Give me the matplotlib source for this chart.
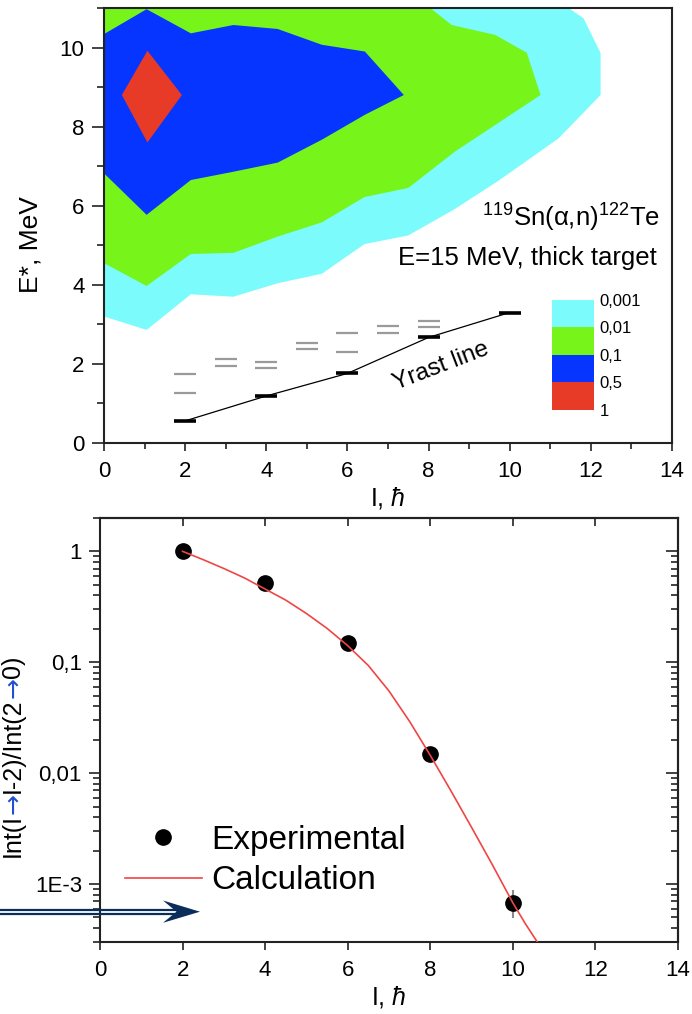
import matplotlib
matplotlib.use('Agg')
import matplotlib.pyplot as plt
import matplotlib.cm as cm
import numpy as np
from matplotlib.colors import ListedColormap, BoundaryNorm
from matplotlib.ticker import MultipleLocator, FixedLocator, FixedFormatter, LogLocator, NullFormatter

plt.rcParams['font.family'] = ['Liberation Sans', 'DejaVu Sans']
plt.rcParams['mathtext.fontset'] = 'custom'
plt.rcParams['mathtext.rm'] = 'Liberation Sans'
plt.rcParams['mathtext.it'] = 'Liberation Sans:italic'
plt.rcParams['mathtext.fallback'] = 'cm'

# Colors
CYAN = '#7BFBFB'
GREEN = '#77F41A'
BLUE = '#0535FF'
RED = '#E73A27'
NAVY = '#0B2D5B'
SPINE = '#222222'

# Population map: boundaries of the filled regions (I in hbar, E* in MeV)
cyan_I = [-0.5, 0.0, 1.05, 2.14, 3.19, 4.28, 5.37, 6.42, 7.5, 8.62, 9.72, 11.2, 12.24, 12.24, 11.82, 11.45, 11.2, -0.5]
cyan_E = [3.20, 3.20, 2.86, 3.76, 3.70, 4.04, 4.28, 5.03, 5.25, 5.90, 6.63, 7.70, 8.80, 9.86, 10.74, 11.0, 11.4, 11.4]
green_I = [-0.5, 0.0, 1.05, 2.14, 3.19, 4.28, 5.37, 6.42, 7.5, 8.65, 10.76, 10.42, 9.64, 8.57, 8.04, 7.8, -0.5]
green_E = [4.55, 4.55, 3.97, 4.78, 4.81, 5.22, 5.58, 6.22, 6.45, 7.37, 8.80, 9.87, 10.32, 10.57, 11.0, 11.4, 11.4]
blue_I = [-0.5, 0.0, 1.05, 2.14, 3.19, 4.28, 5.37, 6.43, 7.39, 6.43, 5.37, 4.28, 3.19, 2.14, 1.05, 0.0, -0.5]
blue_E = [6.82, 6.82, 5.77, 6.65, 6.86, 7.09, 7.67, 8.30, 8.80, 9.90, 10.07, 10.47, 10.57, 10.36, 10.97, 10.34, 10.34]
red_I = [0.44, 1.07, 1.92, 1.07]
red_E = [8.80, 9.92, 8.80, 7.60]

levels = [0.001, 0.01, 0.1, 0.5, 1]
level_labels = ['0,001', '0,01', '0,1', '0,5', '1']

# Level scheme of 122Te
yrast_I = [2, 4, 6, 8, 10]
yrast_E = [0.56, 1.19, 1.76, 2.67, 3.30]
other_I = [2, 2, 3, 3, 4, 4, 5, 5, 6, 6, 7, 7, 8, 8]
other_E = [1.75, 1.26, 2.12, 1.96, 2.06, 1.89, 2.54, 2.39, 2.78, 2.29, 2.96, 2.79, 3.09, 2.93]

# Intensity ratios Int(I->I-2)/Int(2->0)
exp_I = [2, 4, 6, 8, 10]
exp_val = [1.0, 0.52, 0.15, 0.0149, 6.8e-4]
exp_err_lo = [0, 0, 0, 0, 1.9e-4]
exp_err_hi = [0, 0, 0, 0, 2.1e-4]
calc_I = [2, 2.5, 3, 3.5, 4, 4.5, 5, 5.5, 6, 6.5, 7, 7.5, 8, 8.5, 9, 9.5, 10, 10.3, 10.7]
calc_val = [1.0, 0.841, 0.700, 0.575, 0.457, 0.363, 0.275, 0.202, 0.141, 0.0933, 0.0550, 0.0292,
            0.01445, 0.00692, 0.00324, 0.0015, 6.76e-4, 4.4e-4, 2.6e-4]

fig = plt.figure(figsize=(6.92, 10.14), dpi=100)

# ---------------- top panel: population map ----------------
ax1 = fig.add_axes([0.1503, 0.5631, 0.8208, 0.4290])
ax1.fill(cyan_I, cyan_E, color=CYAN, lw=0)
ax1.fill(green_I, green_E, color=GREEN, lw=0)
ax1.fill(blue_I, blue_E, color=BLUE, lw=0)
ax1.fill(red_I, red_E, color=RED, lw=0)

half = 0.27
ax1.hlines(other_E, np.array(other_I) - half, np.array(other_I) + half, color='#9a9a9a', lw=1.6)
ax1.plot(yrast_I, yrast_E, color='k', lw=0.9)
ax1.hlines(yrast_E, np.array(yrast_I) - half, np.array(yrast_I) + half, color='k', lw=2.6)

ax1.text(8.3, 1.95, 'Yrast line', rotation=21, ha='center', va='center', fontsize=17.5)
ax1.text(13.7, 5.47, r'$^{119}$Sn(α,n)$^{122}$Te', ha='right', va='baseline', fontsize=18.5)
ax1.text(13.62, 4.49, 'E=15 MeV, thick target', ha='right', va='baseline', fontsize=18.5)

ax1.set_xlim(0, 14)
ax1.set_ylim(0, 11)
ax1.xaxis.set_major_locator(MultipleLocator(2))
ax1.xaxis.set_minor_locator(MultipleLocator(1))
ax1.yaxis.set_major_locator(MultipleLocator(2))
ax1.yaxis.set_minor_locator(MultipleLocator(1))
ax1.tick_params(axis='both', which='both', direction='out', top=False, right=False,
                width=1.2, color=SPINE, labelsize=16)
ax1.tick_params(axis='x', which='major', length=6, pad=7)
ax1.tick_params(axis='x', which='minor', length=4)
ax1.tick_params(axis='y', which='major', length=9, pad=5)
ax1.tick_params(axis='y', which='minor', length=5)
ax1.set_xlabel(r'I, $\hbar$', fontsize=18, labelpad=2)
ax1.set_ylabel('E*, MeV', fontsize=19)
ax1.yaxis.set_label_coords(-0.109, 0.457)
for sp in ax1.spines.values():
    sp.set_linewidth(1.5)
    sp.set_color(SPINE)

# legend of the map as a small colour bar
cax = ax1.inset_axes([0.788, 0.076, 0.075, 0.253])
cmap = ListedColormap([CYAN, GREEN, BLUE, RED])
norm = BoundaryNorm(levels, cmap.N)
cb = fig.colorbar(cm.ScalarMappable(norm=norm, cmap=cmap), cax=cax, ticks=levels, spacing='uniform')
cb.outline.set_visible(False)
cb.set_ticklabels(level_labels)
cax.invert_yaxis()
cax.tick_params(length=0, labelsize=12, pad=4)
for lab in cax.yaxis.get_majorticklabels():
    lab.set_va('center_baseline')

# ---------------- bottom panel: intensity ratios ----------------
ax2 = fig.add_axes([0.1445, 0.0710, 0.8353, 0.4182])
ax2.set_yscale('log')
ax2.errorbar(exp_I, exp_val, yerr=[exp_err_lo, exp_err_hi], fmt='none', ecolor='#8a8a8a',
             elinewidth=1.5, capsize=0, zorder=2)
ax2.plot(exp_I, exp_val, 'o', color='k', ms=11, label='Experimental', zorder=2.5)
ax2.plot(calc_I, calc_val, color='#F04545', lw=1.2, label='Calculation', zorder=3)

ax2.set_xlim(0, 14)
ax2.set_ylim(3e-4, 2)
ax2.xaxis.set_major_locator(MultipleLocator(2))
ax2.yaxis.set_major_locator(FixedLocator([1e-3, 1e-2, 1e-1, 1]))
ax2.yaxis.set_major_formatter(FixedFormatter(['1E-3', '0,01', '0,1', '1']))
ax2.yaxis.set_minor_locator(LogLocator(base=10, subs=np.arange(2, 10)))
ax2.yaxis.set_minor_formatter(NullFormatter())
ax2.tick_params(axis='both', which='both', direction='out', top=False, right=False,
                width=1.2, color=SPINE, labelsize=16)
ax2.tick_params(axis='x', which='major', length=6, pad=7)
ax2.tick_params(axis='y', which='major', length=8, pad=5)
ax2.tick_params(axis='y', which='minor', length=5)
ax2.set_xlabel(r'I, $\hbar$', fontsize=18, labelpad=2)
for sp in ax2.spines.values():
    sp.set_linewidth(1.5)
    sp.set_color(SPINE)

sec_x = ax2.secondary_xaxis('top')
sec_x.xaxis.set_major_locator(FixedLocator([2, 4, 6, 8, 10, 12]))
sec_x.tick_params(direction='in', length=6, width=1.2, color=SPINE, labeltop=False)
sec_x.spines['top'].set_linewidth(1.5)
sec_y = ax2.secondary_yaxis('right')
sec_y.yaxis.set_major_locator(FixedLocator([1e-3, 1e-2, 1e-1, 1]))
sec_y.yaxis.set_minor_locator(LogLocator(base=10, subs=np.arange(2, 10)))
sec_y.tick_params(which='both', direction='in', width=1.2, color=SPINE, labelright=False)
sec_y.tick_params(which='major', length=9)
sec_y.tick_params(which='minor', length=5)
sec_y.spines['right'].set_linewidth(1.5)

ax2.legend(loc='lower left', bbox_to_anchor=(0.043, 0.108), frameon=False, fontsize=24,
           handlelength=2.3, handletextpad=0.28, labelspacing=0.28, borderpad=0, borderaxespad=0)

# y label of the bottom panel, built piece by piece so the arrows can be blue
fig.canvas.draw()
renderer = fig.canvas.get_renderer()
W, H = 692.0, 1014.0
ARROW = '#1f4fd0'
pieces = [('Int(I', 'k', 'Liberation Sans'), ('→', ARROW, 'DejaVu Sans'),
          ('I-2)/Int(2', 'k', 'Liberation Sans'), ('→', ARROW, 'DejaVu Sans'),
          ('0)', 'k', 'Liberation Sans')]
ypos = 857.0
for s, c, fam in pieces:
    t = fig.text(20 / W, 1 - ypos / H, s, rotation=90, rotation_mode='anchor',
                 ha='left', va='baseline', color=c, fontsize=18, family=fam)
    ypos -= t.get_window_extent(renderer).height

# double arrow pointing into the bottom panel
ov = fig.add_axes([0, 0, 1, 1], zorder=10)
ov.set_xlim(0, W)
ov.set_ylim(H, 0)
ov.axis('off')
ov.plot([0, 178], [909.5, 909.5], color=NAVY, lw=1.6, solid_capstyle='butt')
ov.plot([0, 178], [913.8, 913.8], color=NAVY, lw=1.6, solid_capstyle='butt')
ov.fill([163, 200, 163, 176.5], [900.5, 911.7, 922.8, 911.7], color=NAVY, lw=0)

fig.savefig('out.png', dpi=100)
